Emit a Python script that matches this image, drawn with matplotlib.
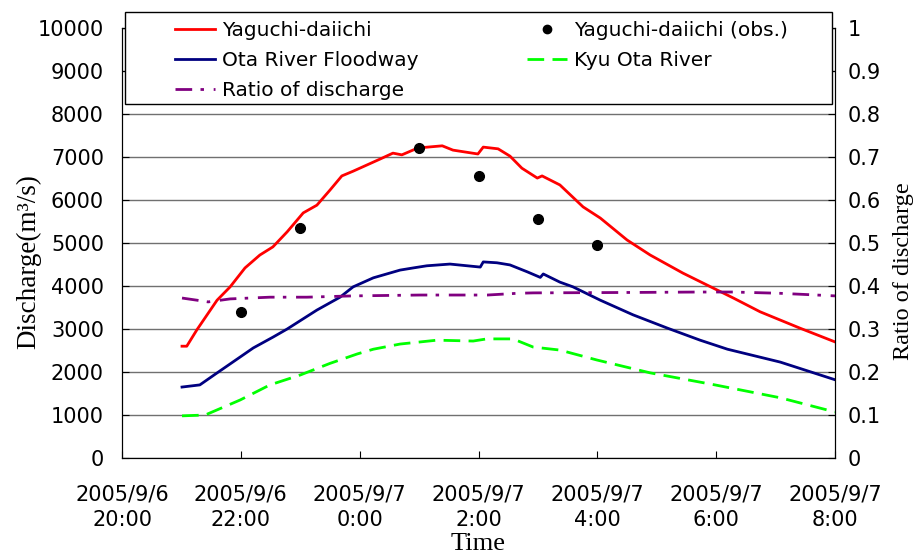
import matplotlib
matplotlib.use('Agg')
import matplotlib.pyplot as plt
from matplotlib.lines import Line2D
from matplotlib.patches import Rectangle

plt.rcParams['font.family'] = ['DejaVu Sans']
plt.rcParams['lines.scale_dashes'] = False

# hours after 2005/9/6 20:00
red_t = [1.01, 1.09, 1.26, 1.60, 1.82, 2.07, 2.32, 2.54, 2.78, 3.05, 3.28, 3.50, 3.70, 3.89,
         4.34, 4.56, 4.71, 4.98, 5.39, 5.57, 5.99, 6.08, 6.33, 6.53, 6.73, 6.99, 7.07, 7.37,
         7.76, 8.05, 8.50, 8.89, 9.44, 9.85, 10.29, 10.74, 11.41, 12.0]
red_q = [2600, 2600, 2980, 3670, 3980, 4420, 4720, 4910, 5260, 5700, 5880, 6230, 6560, 6670,
         6950, 7090, 7050, 7210, 7260, 7160, 7070, 7230, 7190, 7020, 6740, 6510, 6560, 6350,
         5840, 5580, 5070, 4720, 4300, 4020, 3720, 3400, 3020, 2700]

obs_t = [2, 3, 5, 6, 7, 8]
obs_q = [3400, 5350, 7210, 6560, 5560, 4950]

blue_t = [1.01, 1.31, 1.57, 1.99, 2.21, 2.54, 2.78, 3.28, 3.67, 3.89, 4.23, 4.68, 4.90, 5.13,
          5.52, 6.03, 6.08, 6.31, 6.53, 6.82, 7.04, 7.09, 7.37, 7.59, 8.05, 8.60, 9.18, 9.73,
          10.19, 11.08, 12.0]
blue_q = [1650, 1700, 1950, 2350, 2560, 2810, 3000, 3440, 3740, 3980, 4190, 4370, 4420, 4470,
          4510, 4440, 4560, 4540, 4490, 4330, 4200, 4280, 4090, 3980, 3670, 3330, 3020, 2740,
          2530, 2230, 1820]

green_t = [1.01, 1.40, 1.99, 2.49, 3.00, 3.50, 3.96, 4.23, 4.68, 5.30, 5.91, 6.14, 6.58, 6.92,
           7.37, 7.99, 8.89, 9.98, 11.08, 12.0]
green_q = [980, 1000, 1350, 1700, 1930, 2200, 2420, 2530, 2650, 2740, 2720, 2770, 2770, 2580,
           2510, 2280, 1980, 1700, 1400, 1070]

ratio_t = [1.01, 1.26, 1.45, 1.82, 2.49, 3.11, 3.89, 5.02, 6.15, 6.65, 6.92, 8.60, 9.73,
           10.29, 11.08, 12.0]
ratio_v = [0.372, 0.367, 0.363, 0.370, 0.374, 0.374, 0.377, 0.379, 0.379, 0.383, 0.384,
           0.385, 0.386, 0.386, 0.383, 0.377]

xtick_pos = [0, 2, 4, 6, 8, 10, 12]
xtick_lab = ['2005/9/6\n20:00', '2005/9/6\n22:00', '2005/9/7\n0:00', '2005/9/7\n2:00',
             '2005/9/7\n4:00', '2005/9/7\n6:00', '2005/9/7\n8:00']

green_dash = (12, 6)
ratio_dash = (12, 6, 2.5, 7)

fig = plt.figure(figsize=(9.21, 5.54), dpi=100)
ax = fig.add_axes([122/921, 1-458/554, 713/921, 430/554])
ax2 = ax.twinx()

ax.plot(red_t, red_q, color='#ff0000', lw=2)
ax.plot(blue_t, blue_q, color='#000080', lw=2)
ax.plot(green_t, green_q, color='#00ff00', lw=2, dashes=green_dash)
ax.plot(obs_t, obs_q, 'o', color='black', ms=7)
ax2.plot(ratio_t, ratio_v, color='#800080', lw=2, dashes=ratio_dash)

ax.set_xlim(0, 12)
ax.set_ylim(0, 10000)
ax.set_yticks(range(0, 10001, 1000))
ax.set_xticks(xtick_pos)
ax.set_xticklabels(xtick_lab, linespacing=1.35)
ax.grid(axis='y', color='#707070', lw=1)
ax.set_axisbelow(True)
ax.tick_params(axis='x', direction='in', length=5, labelsize=15, pad=19)
ax.tick_params(axis='y', direction='in', length=5, labelsize=15, pad=13)

ax2.set_ylim(0, 1)
ax2.set_yticks([i / 10 for i in range(11)])
ax2.set_yticklabels(['0'] + ['0.%d' % i for i in range(1, 10)] + ['1'])
ax2.tick_params(axis='y', direction='in', length=5, labelsize=15, pad=9)

ax.set_ylabel('Discharge(m³/s)', family='Liberation Serif', fontsize=19.5)
ax.yaxis.set_label_coords(-0.113, 0.456)
ax.set_xlabel('Time', family='Liberation Serif', fontsize=19, labelpad=2)
ax2.set_ylabel('Ratio of discharge', family='Liberation Serif', fontsize=17.5)
ax2.yaxis.set_label_coords(1.081, 0.435)

# legend box
fig.add_artist(Rectangle((125/921, 1-104/554), 707/921, 92/554, transform=fig.transFigure,
                         facecolor='white', edgecolor='black', lw=1, zorder=3))

handles = [
    Line2D([], [], color='#ff0000', lw=2),
    Line2D([], [], color='#000080', lw=2),
    Line2D([], [], color='#800080', lw=2, dashes=ratio_dash),
    Line2D([], [], marker='o', ls='none', color='black', ms=6),
    Line2D([], [], color='#00ff00', lw=2, dashes=green_dash),
]
labels = ['Yaguchi-daiichi', 'Ota River Floodway', 'Ratio of discharge',
          'Yaguchi-daiichi (obs.)', 'Kyu Ota River']
leg = fig.legend(handles, labels, ncol=2, loc='upper left',
                 bbox_to_anchor=(175/921, 1-21/554), frameon=False,
                 fontsize=14.5, borderaxespad=0, borderpad=0, handlelength=2,
                 handletextpad=0.35, labelspacing=0.55, columnspacing=5.35)
leg.set_zorder(4)

fig.savefig('out.png', dpi=100)
